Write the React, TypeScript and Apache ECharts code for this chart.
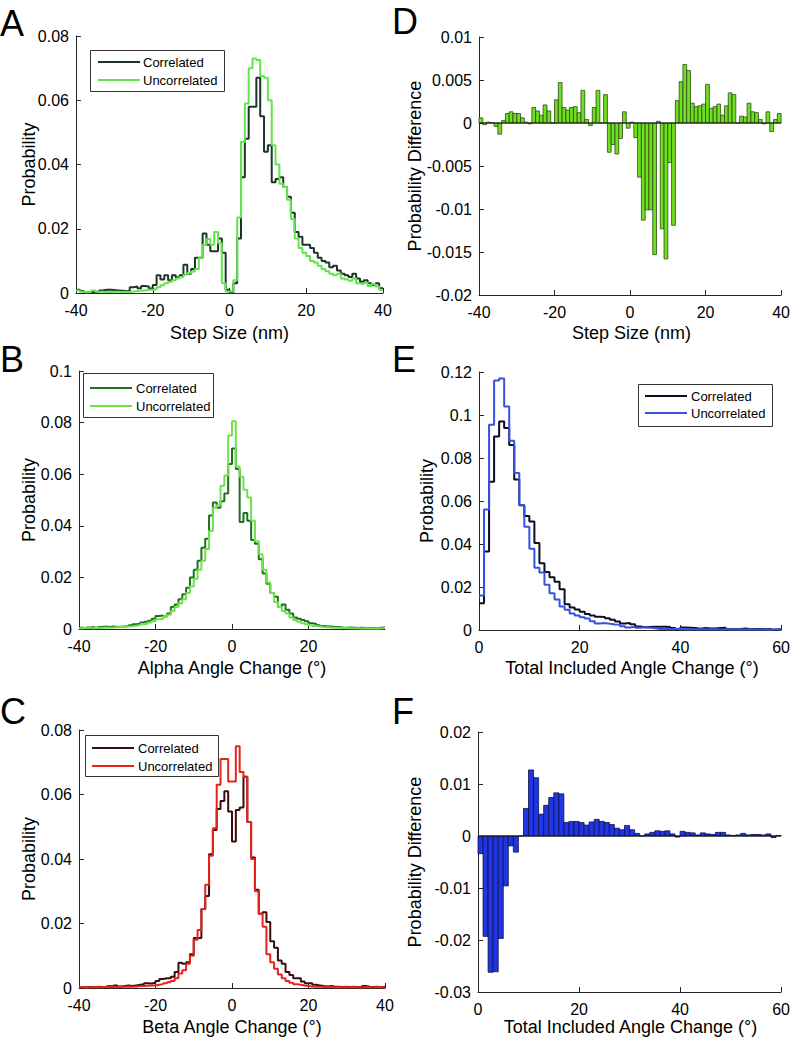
import React, { useEffect, useRef } from "react";
import * as echarts from "echarts";

const FONT = "'Liberation Sans', Arial, Helvetica, sans-serif";

// ---------- Panel A: Step Size (nm), 1 nm bins starting at -40 ----------
const stepBinStart = -40;
const stepCorrelated = [
  0.0010, 0.0006, 0.0002, 0.0003, 0.0004, 0.0003, 0.0008, 0.0010, 0.0010, 0.0009,
  0.0008, 0.0007, 0.0006, 0.0006, 0.0018, 0.0020, 0.0015, 0.0022, 0.0020, 0.0014,
  0.0025, 0.0055, 0.0042, 0.0055, 0.0040, 0.0055, 0.0048, 0.0055, 0.0088, 0.0060,
  0.0075, 0.0110, 0.0110, 0.0185, 0.0150, 0.0130, 0.0130, 0.0170, 0.0125, 0.0010,
  0.0002, 0.0030, 0.0170, 0.0360, 0.0480, 0.0580, 0.0580, 0.0670, 0.0550, 0.0440,
  0.0460, 0.0345, 0.0355, 0.0360, 0.0330, 0.0300, 0.0250, 0.0190, 0.0175, 0.0150,
  0.0150, 0.0140, 0.0125, 0.0110, 0.0100, 0.0095, 0.0080, 0.0085, 0.0070, 0.0060,
  0.0055, 0.0050, 0.0060, 0.0045, 0.0035, 0.0040, 0.0030, 0.0025, 0.0030, 0.0015,
];
const stepUncorrelated = [
  0.0008, 0.0004, 0.0002, 0.0004, 0.0008, 0.0004, 0.0004, 0.0003, 0.0003, 0.0004,
  0.0004, 0.0003, 0.0004, 0.0003, 0.0005, 0.0006, 0.0008, 0.0008, 0.0010, 0.0010,
  0.0012, 0.0018, 0.0024, 0.0030, 0.0035, 0.0040, 0.0045, 0.0050, 0.0057, 0.0062,
  0.0067, 0.0075, 0.0110, 0.0150, 0.0168, 0.0150, 0.0190, 0.0155, 0.0030, 0.0005,
  0.0005, 0.0040, 0.0235, 0.0470, 0.0590, 0.0700, 0.0730, 0.0725, 0.0675, 0.0670,
  0.0600, 0.0460, 0.0400, 0.0340, 0.0330, 0.0290, 0.0230, 0.0170, 0.0140, 0.0125,
  0.0115, 0.0100, 0.0095, 0.0085, 0.0075, 0.0068, 0.0060, 0.0055, 0.0060, 0.0045,
  0.0042, 0.0038, 0.0045, 0.0030, 0.0028, 0.0032, 0.0022, 0.0028, 0.0020, 0.0010,
];

// ---------- Panel D: step size probability difference ----------
const stepDifference = [
  0.0006, -0.0002, 0.0001, 0.0000, -0.0004, -0.0013, 0.0003, 0.0011, 0.0013, 0.0011,
  0.0011, 0.0006, 0.0001, -0.0001, 0.0018, 0.0014, 0.0009, 0.0021, 0.0014, 0.0000,
  0.0027, 0.0047, 0.0018, 0.0015, 0.0018, 0.0019, 0.0012, 0.0038, 0.0004, -0.0003,
  0.0018, 0.0038, 0.0000, 0.0033, -0.0034, -0.0025, -0.0036, -0.0018, 0.0013, -0.0006,
  0.0001, -0.0017, -0.0063, -0.0113, -0.0101, -0.0101, -0.0153, 0.0002, -0.0123, -0.0158,
  -0.0046, -0.0119, 0.0026, 0.0048, 0.0068, 0.0061, 0.0023, 0.0019, 0.0020, 0.0022,
  0.0045, 0.0017, 0.0019, 0.0022, 0.0009, 0.0020, 0.0035, 0.0033, 0.0000, 0.0008,
  0.0007, 0.0023, 0.0013, 0.0012, 0.0004, -0.0001, 0.0013, -0.0010, 0.0004, 0.0011,
];

// ---------- Panel B: Alpha angle change (deg), 1 deg bins from -40 ----------
const alphaBinStart = -40;
const alphaCorrelated = [
  0.0005, 0.0003, 0.0006, 0.0008, 0.0005, 0.0008, 0.0010, 0.0008, 0.0010, 0.0008,
  0.0009, 0.0010, 0.0012, 0.0015, 0.0018, 0.0020, 0.0025, 0.0028, 0.0032, 0.0040,
  0.0050, 0.0052, 0.0048, 0.0060, 0.0085, 0.0095, 0.0115, 0.0135, 0.0160, 0.0200,
  0.0230, 0.0265, 0.0315, 0.0350, 0.0440, 0.0490, 0.0470, 0.0495, 0.0525, 0.0640,
  0.0700, 0.0620, 0.0415, 0.0450, 0.0420, 0.0345, 0.0330, 0.0270, 0.0215, 0.0175,
  0.0140, 0.0125, 0.0085, 0.0095, 0.0075, 0.0060, 0.0045, 0.0040, 0.0035, 0.0030,
  0.0022, 0.0020, 0.0015, 0.0012, 0.0010, 0.0010, 0.0008, 0.0008, 0.0006, 0.0005,
  0.0006, 0.0005, 0.0004, 0.0005, 0.0004, 0.0003, 0.0004, 0.0003, 0.0005, 0.0006,
];
const alphaUncorrelated = [
  0.0003, 0.0005, 0.0004, 0.0003, 0.0005, 0.0004, 0.0006, 0.0005, 0.0006, 0.0007,
  0.0008, 0.0009, 0.0010, 0.0011, 0.0013, 0.0015, 0.0018, 0.0020, 0.0025, 0.0030,
  0.0038, 0.0040, 0.0048, 0.0055, 0.0070, 0.0085, 0.0100, 0.0115, 0.0140, 0.0165,
  0.0195, 0.0230, 0.0265, 0.0310, 0.0380, 0.0470, 0.0480, 0.0555, 0.0595, 0.0750,
  0.0805, 0.0630, 0.0590, 0.0540, 0.0510, 0.0420, 0.0340, 0.0290, 0.0230, 0.0180,
  0.0140, 0.0105, 0.0085, 0.0070, 0.0060, 0.0045, 0.0035, 0.0028, 0.0022, 0.0018,
  0.0015, 0.0012, 0.0010, 0.0008, 0.0007, 0.0006, 0.0005, 0.0005, 0.0004, 0.0004,
  0.0003, 0.0003, 0.0003, 0.0002, 0.0003, 0.0002, 0.0002, 0.0003, 0.0002, 0.0004,
];

// ---------- Panel C: Beta angle change (deg), 1 deg bins from -40 ----------
const betaBinStart = -40;
const betaCorrelated = [
  0.0002, 0.0002, 0.0003, 0.0002, 0.0004, 0.0003, 0.0004, 0.0006, 0.0005, 0.0008,
  0.0005, 0.0006, 0.0008, 0.0006, 0.0008, 0.0010, 0.0012, 0.0015, 0.0014, 0.0016,
  0.0022, 0.0028, 0.0030, 0.0030, 0.0035, 0.0050, 0.0078, 0.0075, 0.0080, 0.0105,
  0.0155, 0.0155, 0.0245, 0.0285, 0.0415, 0.0490, 0.0555, 0.0580, 0.0610, 0.0547,
  0.0454, 0.0552, 0.0560, 0.0655, 0.0515, 0.0405, 0.0305, 0.0230, 0.0235, 0.0205,
  0.0145, 0.0125, 0.0085, 0.0075, 0.0050, 0.0040, 0.0030, 0.0030, 0.0020, 0.0015,
  0.0015, 0.0010, 0.0008, 0.0006, 0.0005, 0.0006, 0.0004, 0.0004, 0.0003, 0.0004,
  0.0003, 0.0004, 0.0003, 0.0003, 0.0006, 0.0004, 0.0003, 0.0004, 0.0002, 0.0004,
];
const betaUncorrelated = [
  0.0002, 0.0001, 0.0002, 0.0002, 0.0003, 0.0002, 0.0003, 0.0003, 0.0004, 0.0003,
  0.0004, 0.0004, 0.0005, 0.0004, 0.0005, 0.0006, 0.0006, 0.0007, 0.0008, 0.0008,
  0.0010, 0.0012, 0.0015, 0.0018, 0.0022, 0.0030, 0.0045, 0.0055, 0.0075, 0.0100,
  0.0150, 0.0180, 0.0245, 0.0320, 0.0410, 0.0495, 0.0630, 0.0710, 0.0710, 0.0640,
  0.0640, 0.0750, 0.0670, 0.0655, 0.0515, 0.0400, 0.0300, 0.0230, 0.0190, 0.0105,
  0.0080, 0.0060, 0.0042, 0.0030, 0.0022, 0.0016, 0.0012, 0.0010, 0.0008, 0.0006,
  0.0005, 0.0004, 0.0004, 0.0003, 0.0004, 0.0003, 0.0002, 0.0003, 0.0002, 0.0003,
  0.0002, 0.0003, 0.0002, 0.0002, 0.0003, 0.0002, 0.0002, 0.0003, 0.0002, 0.0002,
];

// ---------- Panel E: Total included angle change (deg), 1 deg bins from 0 ----------
const totalBinStart = 0;
const totalCorrelated = [
  0.0125, 0.0365, 0.0690, 0.0900, 0.0970, 0.0940, 0.0860, 0.0700, 0.0580, 0.0530,
  0.0505, 0.0405, 0.0310, 0.0270, 0.0245, 0.0225, 0.0190, 0.0120, 0.0105, 0.0095,
  0.0085, 0.0075, 0.0068, 0.0062, 0.0060, 0.0055, 0.0048, 0.0040, 0.0030, 0.0032,
  0.0027, 0.0016, 0.0013, 0.0014, 0.0015, 0.0015, 0.0015, 0.0014, 0.0009, 0.0004,
  0.0012, 0.0011, 0.0009, 0.0006, 0.0009, 0.0007, 0.0007, 0.0009, 0.0010, 0.0005,
  0.0003, 0.0005, 0.0007, 0.0004, 0.0005, 0.0005, 0.0004, 0.0005, 0.0001, 0.0003,
];
const totalUncorrelated = [
  0.0160, 0.0560, 0.0955, 0.1160, 0.1170, 0.1040, 0.0880, 0.0730, 0.0580, 0.0480,
  0.0378, 0.0290, 0.0268, 0.0211, 0.0171, 0.0142, 0.0109, 0.0094, 0.0077, 0.0067,
  0.0059, 0.0054, 0.0041, 0.0030, 0.0032, 0.0029, 0.0026, 0.0025, 0.0018, 0.0012,
  0.0015, 0.0011, 0.0013, 0.0010, 0.0008, 0.0005, 0.0006, 0.0004, 0.0005, 0.0006,
  0.0003, 0.0004, 0.0003, 0.0004, 0.0003, 0.0003, 0.0004, 0.0002, 0.0003, 0.0003,
  0.0002, 0.0003, 0.0002, 0.0002, 0.0002, 0.0002, 0.0002, 0.0001, 0.0004, 0.0002,
];

// ---------- Panel F: total included angle probability difference ----------
const totalDifference = [
  -0.0034, -0.0193, -0.0262, -0.0261, -0.0197, -0.0096, -0.0019, -0.0031, 0.0000, 0.0053,
  0.0127, 0.0112, 0.0042, 0.0059, 0.0074, 0.0083, 0.0081, 0.0026, 0.0028, 0.0028,
  0.0026, 0.0021, 0.0027, 0.0032, 0.0028, 0.0026, 0.0022, 0.0015, 0.0012, 0.0020,
  0.0012, 0.0005, 0.0000, 0.0004, 0.0007, 0.0010, 0.0009, 0.0010, 0.0004, -0.0002,
  0.0009, 0.0007, 0.0006, 0.0002, 0.0006, 0.0004, 0.0003, 0.0007, 0.0007, 0.0002,
  0.0001, 0.0002, 0.0005, 0.0002, 0.0003, 0.0003, 0.0002, 0.0004, -0.0003, 0.0001,
];

// ---------- axis ticks / labels ----------
const signedTicks = [-40, -20, 0, 20, 40];
const positiveTicks = [0, 20, 40, 60];

const AXIS_COLOR = "#262626";

function fmt(v: number) {
  return String(Math.round(v * 10000) / 10000);
}

function stepData(start: number, vals: number[]) {
  const d: number[][] = vals.map((v, i) => [start + i, v]);
  d.push([start + vals.length, vals[vals.length - 1]]);
  return d;
}

function xAxis(gridIndex: number, ticks: number[], showMax = true) {
  return {
    type: "value",
    gridIndex,
    min: ticks[0],
    max: ticks[ticks.length - 1],
    interval: ticks[1] - ticks[0],
    axisLine: { show: true, onZero: false, lineStyle: { color: AXIS_COLOR, width: 1 } },
    axisTick: { show: true, inside: true, length: 5, lineStyle: { color: AXIS_COLOR } },
    axisLabel: {
      color: "#000",
      fontSize: 16,
      fontFamily: FONT,
      margin: 9,
      showMaxLabel: showMax,
      formatter: fmt,
    },
    splitLine: { show: false },
  };
}

function yAxis(gridIndex: number, min: number, max: number, interval: number) {
  return {
    type: "value",
    gridIndex,
    min,
    max,
    interval,
    axisLine: { show: true, onZero: false, lineStyle: { color: AXIS_COLOR, width: 1 } },
    axisTick: { show: true, inside: true, length: 5, lineStyle: { color: AXIS_COLOR } },
    axisLabel: { color: "#000", fontSize: 16, fontFamily: FONT, margin: 7, formatter: fmt },
    splitLine: { show: false },
  };
}

function stepSeries(idx: number, name: string, start: number, vals: number[], color: string, z: number) {
  return {
    type: "line",
    name,
    xAxisIndex: idx,
    yAxisIndex: idx,
    step: "end",
    symbol: "none",
    showSymbol: false,
    data: stepData(start, vals),
    lineStyle: { color, width: 2 },
    itemStyle: { color },
    z,
  };
}

function barSeries(idx: number, name: string, start: number, vals: number[], fill: string, stroke: string) {
  return {
    type: "custom",
    name,
    xAxisIndex: idx,
    yAxisIndex: idx,
    data: vals.map((v, i) => [start + i, v]),
    encode: { x: 0, y: 1 },
    renderItem: (params: any, api: any) => {
      const x0 = api.value(0);
      const v = api.value(1);
      const p0 = api.coord([x0, 0]);
      const p1 = api.coord([x0 + 1, v]);
      return {
        type: "rect",
        shape: {
          x: p0[0],
          y: Math.min(p0[1], p1[1]),
          width: p1[0] - p0[0],
          height: Math.abs(p1[1] - p0[1]),
        },
        style: { fill, stroke, lineWidth: 0.8 },
      };
    },
    z: 2,
  };
}

function baseline(idx: number, x0: number, x1: number) {
  return {
    type: "line",
    xAxisIndex: idx,
    yAxisIndex: idx,
    symbol: "none",
    data: [
      [x0, 0],
      [x1, 0],
    ],
    lineStyle: { color: "#111", width: 1 },
    z: 3,
    silent: true,
  };
}

function text(x: number, y: number, s: string, size: number, opts: any = {}) {
  return {
    type: "text",
    x,
    y,
    rotation: opts.rotation || 0,
    z: 100,
    style: {
      text: s,
      fontSize: size,
      fontFamily: FONT,
      fill: "#000",
      textAlign: opts.align || "center",
      textVerticalAlign: "middle",
    },
  };
}

function legendBox(
  bx: number, by: number, bw: number, bh: number,
  lx1: number, lx2: number, tx: number, y1: number, y2: number,
  c1: string, c2: string
) {
  return [
    {
      type: "rect",
      z: 90,
      shape: { x: bx + 0.5, y: by + 0.5, width: bw, height: bh },
      style: { fill: "#fff", stroke: "#333", lineWidth: 1 },
    },
    { type: "line", z: 95, shape: { x1: lx1, y1: y1, x2: lx2, y2: y1 }, style: { stroke: c1, lineWidth: 2 } },
    { type: "line", z: 95, shape: { x1: lx1, y1: y2, x2: lx2, y2: y2 }, style: { stroke: c2, lineWidth: 2 } },
    text(tx, y1, "Correlated", 13, { align: "left" }),
    text(tx, y2, "Uncorrelated", 13, { align: "left" }),
  ];
}

const COLORS = {
  aCor: "#1c3528",
  aUnc: "#5ee64a",
  dFill: "#6ee01e",
  dStroke: "#2d4a17",
  bCor: "#1f6f1f",
  bUnc: "#6ee24a",
  cCor: "#3c0c0c",
  cUnc: "#e8221a",
  eCor: "#0c0c26",
  eUnc: "#3553de",
  fFill: "#2036e4",
  fStroke: "#0e1145",
};

export default function App() {
  const ref = useRef<HTMLDivElement>(null);

  useEffect(() => {
    if (!ref.current) return;
    const chart = echarts.init(ref.current, undefined, { renderer: "svg" });

    const option: any = {
      animation: false,
      backgroundColor: "#fff",
      textStyle: { fontFamily: FONT },
      grid: [
        { left: 76, top: 36, width: 307, height: 257 }, // A
        { left: 479, top: 37, width: 305, height: 258 }, // D
        { left: 79, top: 371, width: 306, height: 258 }, // B
        { left: 479, top: 372, width: 306, height: 258 }, // E
        { left: 79, top: 730, width: 306, height: 258 }, // C
        { left: 478, top: 732, width: 305, height: 260 }, // F
      ],
      xAxis: [
        xAxis(0, signedTicks),
        xAxis(1, signedTicks),
        xAxis(2, signedTicks, false),
        xAxis(3, positiveTicks),
        xAxis(4, signedTicks),
        xAxis(5, positiveTicks),
      ],
      yAxis: [
        yAxis(0, 0, 0.08, 0.02),
        yAxis(1, -0.02, 0.01, 0.005),
        yAxis(2, 0, 0.1, 0.02),
        yAxis(3, 0, 0.12, 0.02),
        yAxis(4, 0, 0.08, 0.02),
        yAxis(5, -0.03, 0.02, 0.01),
      ],
      series: [
        stepSeries(0, "Correlated", stepBinStart, stepCorrelated, COLORS.aCor, 2),
        stepSeries(0, "Uncorrelated", stepBinStart, stepUncorrelated, COLORS.aUnc, 3),
        barSeries(1, "Difference", stepBinStart, stepDifference, COLORS.dFill, COLORS.dStroke),
        baseline(1, -40, 40),
        stepSeries(2, "Correlated", alphaBinStart, alphaCorrelated, COLORS.bCor, 2),
        stepSeries(2, "Uncorrelated", alphaBinStart, alphaUncorrelated, COLORS.bUnc, 3),
        stepSeries(3, "Correlated", totalBinStart, totalCorrelated, COLORS.eCor, 2),
        stepSeries(3, "Uncorrelated", totalBinStart, totalUncorrelated, COLORS.eUnc, 3),
        stepSeries(4, "Correlated", betaBinStart, betaCorrelated, COLORS.cCor, 2),
        stepSeries(4, "Uncorrelated", betaBinStart, betaUncorrelated, COLORS.cUnc, 3),
        barSeries(5, "Difference", totalBinStart, totalDifference, COLORS.fFill, COLORS.fStroke),
        baseline(5, 0, 60),
      ],
      graphic: [
        // panel letters
        text(0, 23, "A", 36, { align: "left" }),
        text(392, 21, "D", 36, { align: "left" }),
        text(0, 359, "B", 36, { align: "left" }),
        text(392, 359, "E", 36, { align: "left" }),
        text(0, 711, "C", 36, { align: "left" }),
        text(392, 711, "F", 36, { align: "left" }),
        // x-axis titles
        text(229.5, 333, "Step Size (nm)", 18),
        text(631.5, 333, "Step Size (nm)", 18),
        text(232, 668, "Alpha Angle Change (°)", 18),
        text(632, 668, "Total Included Angle Change (°)", 18),
        text(232, 1027, "Beta Angle Change (°)", 18),
        text(630.5, 1027, "Total Included Angle Change (°)", 18),
        // y-axis titles
        text(29, 164.5, "Probability", 18, { rotation: Math.PI / 2 }),
        text(415, 166, "Probability Difference", 18, { rotation: Math.PI / 2 }),
        text(29, 500, "Probability", 18, { rotation: Math.PI / 2 }),
        text(427, 501, "Probability", 18, { rotation: Math.PI / 2 }),
        text(29, 859, "Probability", 18, { rotation: Math.PI / 2 }),
        text(415, 862, "Probability Difference", 18, { rotation: Math.PI / 2 }),
        // legends
        ...legendBox(90, 50, 134, 41, 98, 140, 143, 62, 80, COLORS.aCor, COLORS.aUnc),
        ...legendBox(83, 373, 130, 44, 90, 132, 136, 388, 406, COLORS.bCor, COLORS.bUnc),
        ...legendBox(638, 384, 134, 42, 645, 687, 691, 396, 413, COLORS.eCor, COLORS.eUnc),
        ...legendBox(85, 735, 133, 41, 92, 134, 138, 748, 766, COLORS.cCor, COLORS.cUnc),
      ],
    };

    chart.setOption(option);
    return () => chart.dispose();
  }, []);

  return (
    <div
      ref={ref}
      style={{ position: "absolute", left: 0, top: 0, width: 793, height: 1043, background: "#fff" }}
    />
  );
}
